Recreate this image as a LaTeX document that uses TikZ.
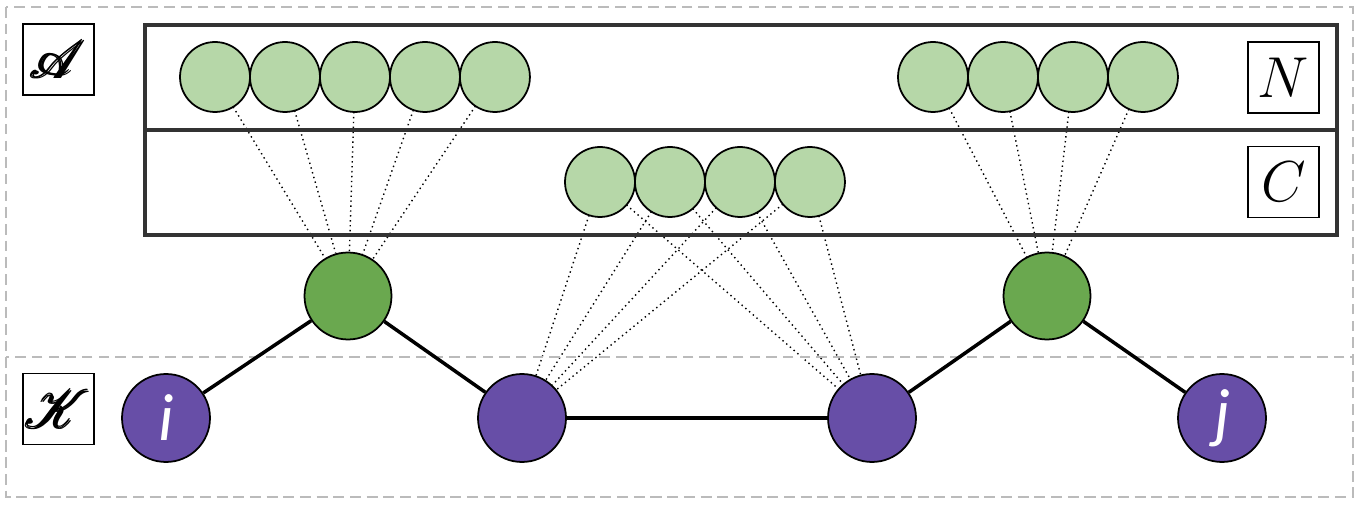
\documentclass[tikz,border=0pt]{standalone}
\usepackage{amsmath}
\usepackage{fontspec}
\newfontfamily\labelfont{Carlito}
\usepackage{mathrsfs}
\usepackage{tikz}
\usetikzlibrary{positioning,backgrounds}
\definecolor{leaf}{HTML}{B6D7A8}
\definecolor{moss}{HTML}{6AA84F}
\definecolor{plum}{HTML}{674EA7}
\definecolor{frame}{HTML}{BBBBBB}
\definecolor{coal}{HTML}{333333}
\newcommand{\bigscript}[1]{\scalebox{1.75}{$\pmb{\mathscr{#1}}$}}
\newcommand{\bigitalic}[1]{\scalebox{1.9}{$#1$}}
\tikzset{
    feat/.style={circle, draw=black, fill=leaf, line width=1pt, minimum size=1.4cm, inner sep=0pt, outer sep=0pt},
    attr/.style={circle, draw=black, fill=moss, line width=1pt, minimum size=1.74cm, inner sep=0pt},
    ent/.style={circle, draw=black, fill=plum, line width=1pt, minimum size=1.76cm, inner sep=0pt, text=white, font=\labelfont\itshape\fontsize{38}{38}\selectfont},
    tag/.style={draw=black, line width=0.7pt, fill=white, minimum size=1.42cm, inner sep=0pt, font=\LARGE},
    zone/.style={draw=frame, line width=1.5pt, dash pattern=on 6pt off 3.5pt},
    band/.style={draw=coal, line width=2.2pt},
    relation/.style={line width=2pt, black},
    link/.style={dotted, line width=0.8pt, black}
}
\begin{document}
\begin{tikzpicture}[x=0.02cm, y=-0.02cm]
  \useasboundingbox (0,0) rectangle (1366,509);

  % Outer zones A and K
  \draw[zone] (6,7) rectangle (1353,497);
  \draw[zone] (6,357) rectangle (1353,497);
  \node[tag] (tag_a) at (58.5,59.5) {\bigscript{A}};
  \node[tag] (tag_k) at (58.5,409) {\bigscript{K}};

  % Bands N and C
  \draw[band] (145,25) rectangle (1337,235);
  \draw[band] (145,130) -- (1337,130);
  \node[tag] (tag_n) at (1283.5,77.5) {\bigitalic{N}};
  \node[tag] (tag_c) at (1283.5,182) {\bigitalic{C}};

  % Row N: left group
  \node[feat] (n1) at (215,77) {};
  \node[feat, right=0pt of n1] (n2) {};
  \node[feat, right=0pt of n2] (n3) {};
  \node[feat, right=0pt of n3] (n4) {};
  \node[feat, right=0pt of n4] (n5) {};

  % Row N: right group
  \node[feat] (n6) at (933,77) {};
  \node[feat, right=0pt of n6] (n7) {};
  \node[feat, right=0pt of n7] (n8) {};
  \node[feat, right=0pt of n8] (n9) {};

  % Row C
  \node[feat] (c1) at (600,182) {};
  \node[feat, right=0pt of c1] (c2) {};
  \node[feat, right=0pt of c2] (c3) {};
  \node[feat, right=0pt of c3] (c4) {};

  % Attribute nodes
  \node[attr] (g1) at (348,296) {};
  \node[attr] (g2) at (1047,296) {};

  % Entity nodes
  \node[ent] (e_i) at (166,418) {i};
  \node[ent] (m1) at (522,418) {};
  \node[ent] (m2) at (872,418) {};
  \node[ent] (e_j) at (1222,418) {j};

  % Dotted links
  \begin{scope}[on background layer]
    \draw[link] (n1) -- (g1);
    \draw[link] (n2) -- (g1);
    \draw[link] (n3) -- (g1);
    \draw[link] (n4) -- (g1);
    \draw[link] (n5) -- (g1);
    \draw[link] (n6) -- (g2);
    \draw[link] (n7) -- (g2);
    \draw[link] (n8) -- (g2);
    \draw[link] (n9) -- (g2);
    \draw[link] (c1) -- (m1);
    \draw[link] (c2) -- (m1);
    \draw[link] (c3) -- (m1);
    \draw[link] (c4) -- (m1);
    \draw[link] (c1) -- (m2);
    \draw[link] (c2) -- (m2);
    \draw[link] (c3) -- (m2);
    \draw[link] (c4) -- (m2);
  \end{scope}

  % Solid relations
  \draw[relation] (e_i) -- (g1);
  \draw[relation] (g1) -- (m1);
  \draw[relation] (m1) -- (m2);
  \draw[relation] (m2) -- (g2);
  \draw[relation] (g2) -- (e_j);

\end{tikzpicture}
\end{document}
